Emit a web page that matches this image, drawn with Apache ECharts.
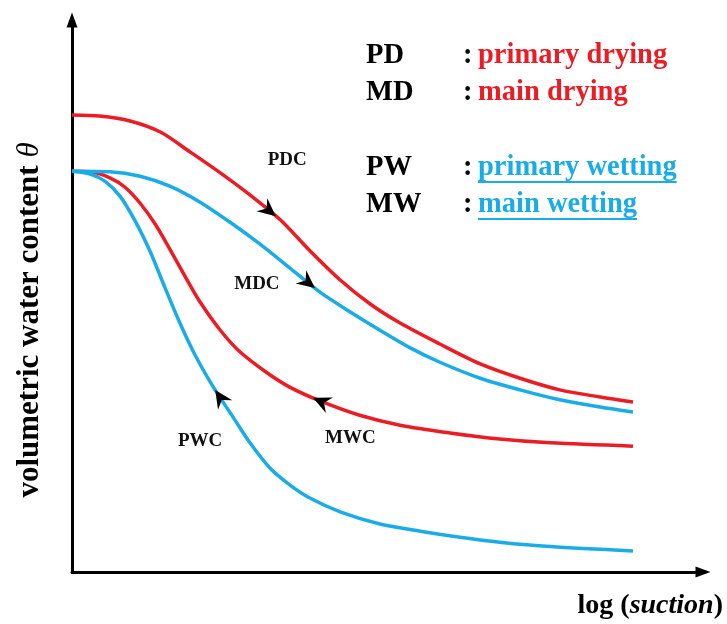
<!DOCTYPE html>
<html>
<head>
<meta charset="utf-8">
<title>Soil water retention hysteresis</title>
<script src="https://cdn.jsdelivr.net/npm/echarts@6/dist/echarts.min.js"></script>
<style>
  html, body { margin: 0; padding: 0; background: #fff; }
  #chart { width: 727px; height: 624px; }
</style>
</head>
<body>
<div id="chart"></div>
<script>
// Suction (log scale, arbitrary units) and volumetric water content for each branch
const pdSuction = [0, 0.44, 0.92, 1.40, 1.87, 2.35, 2.82, 3.30, 3.77, 4.25, 4.72, 5.20, 5.83, 6.47, 7.10, 7.73, 8.37, 8.89];
const pdTheta   = [0.828, 0.826, 0.817, 0.797, 0.761, 0.723, 0.683, 0.638, 0.582, 0.529, 0.486, 0.451, 0.413, 0.377, 0.351, 0.330, 0.317, 0.308];

const mdSuction = [0, 0.60, 1.08, 1.55, 2.03, 2.50, 2.98, 3.45, 3.93, 4.41, 4.88, 5.36, 5.83, 6.47, 7.10, 7.73, 8.37, 8.89];
const mdTheta   = [0.726, 0.725, 0.717, 0.699, 0.670, 0.634, 0.594, 0.551, 0.507, 0.471, 0.438, 0.406, 0.380, 0.351, 0.330, 0.312, 0.299, 0.290];

const mwSuction = [0, 0.29, 0.60, 0.84, 1.08, 1.32, 1.55, 1.79, 2.03, 2.35, 2.66, 3.09, 3.45, 3.93, 4.56, 5.20, 5.99, 6.78, 7.58, 8.89];
const mwTheta   = [0.726, 0.725, 0.714, 0.697, 0.668, 0.630, 0.585, 0.536, 0.489, 0.438, 0.399, 0.361, 0.335, 0.310, 0.284, 0.266, 0.252, 0.241, 0.234, 0.228];

const pwSuction = [0, 0.29, 0.52, 0.76, 1.00, 1.24, 1.47, 1.71, 1.95, 2.24, 2.55, 2.82, 3.14, 3.45, 3.77, 4.25, 4.88, 5.52, 6.15, 6.78, 7.58, 8.89];
const pwTheta   = [0.726, 0.721, 0.708, 0.681, 0.636, 0.580, 0.516, 0.451, 0.393, 0.335, 0.281, 0.234, 0.188, 0.158, 0.134, 0.109, 0.087, 0.074, 0.063, 0.054, 0.046, 0.038];

// Branch names, legend abbreviations and descriptions
const branchNames = ['PDC', 'MDC', 'MWC', 'PWC'];
const legendKeys  = ['PD', 'MD', 'PW', 'MW'];
const legendTexts = ['primary drying', 'main drying', 'primary wetting', 'main wetting'];

// Direction-of-travel arrowheads: branch index, suction at the tip, +1 = towards drier
const arrowBranch = [0, 1, 2, 3];
const arrowAt     = [3.23, 3.85, 3.82, 2.27];
const arrowDir    = [1, 1, -1, -1];

// Where each branch name is written
const labelSuction = [3.41, 2.93, 4.41, 2.03];
const labelTheta   = [0.746, 0.522, 0.243, 0.237];

const RED = '#EC1C24';
const BLUE = '#1AACE6';
const SERIF = "'Liberation Serif', 'Times New Roman', serif";

const branches = [
  { x: pdSuction, y: pdTheta, color: RED },
  { x: mdSuction, y: mdTheta, color: BLUE },
  { x: mwSuction, y: mwTheta, color: RED },
  { x: pwSuction, y: pwTheta, color: BLUE }
];

const chart = echarts.init(document.getElementById('chart'), null, { renderer: 'canvas' });

function pairs(b) { return b.x.map((v, i) => [v, b.y[i]]); }

// Reds underneath, blues on top
const drawOrder = [0, 2, 1, 3];
const lineSeries = drawOrder.map(i => ({
  type: 'line',
  name: branchNames[i],
  data: pairs(branches[i]),
  showSymbol: false,
  smooth: 0.3,
  lineStyle: { color: branches[i].color, width: 3.5 },
  z: 2,
  silent: true
}));

const arrowSeries = {
  type: 'custom',
  name: 'arrows',
  z: 5,
  silent: true,
  data: arrowAt.map((v, i) => [v, 0, i]),
  renderItem: function (params, api) {
    const i = params.dataIndex;
    const b = branches[arrowBranch[i]];
    const pts = b.x.map((v, k) => api.coord([v, b.y[k]]));
    const tipX = api.coord([arrowAt[i], 0])[0];
    let k = 0;
    while (k < pts.length - 2 && pts[k + 1][0] < tipX) k++;
    const p0 = pts[k], p1 = pts[k + 1];
    const t = (tipX - p0[0]) / (p1[0] - p0[0]);
    const tip = [tipX, p0[1] + t * (p1[1] - p0[1])];
    let dx = (p1[0] - p0[0]) * arrowDir[i];
    let dy = (p1[1] - p0[1]) * arrowDir[i];
    const len = Math.hypot(dx, dy);
    dx /= len; dy /= len;
    const nx = -dy, ny = dx;
    const L = 18, W = 8.5, N = 12;
    const back = [tip[0] - dx * L, tip[1] - dy * L];
    return {
      type: 'polygon',
      shape: { points: [
        tip,
        [back[0] + nx * W, back[1] + ny * W],
        [tip[0] - dx * N, tip[1] - dy * N],
        [back[0] - nx * W, back[1] - ny * W]
      ] },
      style: { fill: '#000' }
    };
  }
};

const labelSeries = {
  type: 'custom',
  name: 'branch labels',
  z: 6,
  silent: true,
  data: labelSuction.map((v, i) => [v, labelTheta[i]]),
  renderItem: function (params, api) {
    const p = api.coord([api.value(0), api.value(1)]);
    return {
      type: 'text',
      x: p[0], y: p[1],
      style: {
        text: branchNames[params.dataIndex],
        font: 'bold 19px ' + SERIF,
        fill: '#111',
        align: 'center',
        verticalAlign: 'middle'
      }
    };
  }
};

// Legend block drawn as text, with underlines under the wetting entries
const measure = document.createElement('canvas').getContext('2d');
const LEG_FONT = 'bold 28.5px ' + SERIF;
measure.font = LEG_FONT;
const rowY = [56, 93, 168, 205];
const legendColors = [RED, RED, BLUE, BLUE];
const legendGraphics = [];
legendKeys.forEach((key, i) => {
  legendGraphics.push({
    type: 'text', x: 366, y: rowY[i],
    style: { text: key, font: LEG_FONT, fill: '#000', align: 'left', verticalAlign: 'middle' }
  });
  legendGraphics.push({
    type: 'text', x: 463, y: rowY[i],
    style: { text: ':', font: LEG_FONT, fill: '#000', align: 'left', verticalAlign: 'middle' }
  });
  legendGraphics.push({
    type: 'text', x: 478, y: rowY[i],
    style: { text: legendTexts[i], font: LEG_FONT, fill: legendColors[i], align: 'left', verticalAlign: 'middle' }
  });
  if (i >= 2) {
    const w = measure.measureText(legendTexts[i]).width;
    legendGraphics.push({
      type: 'line',
      shape: { x1: 478, y1: rowY[i] + 14, x2: 478 + w, y2: rowY[i] + 14 },
      style: { stroke: legendColors[i], lineWidth: 2 }
    });
  }
});

const axisBase = {
  type: 'value',
  min: 0,
  axisTick: { show: false },
  axisLabel: { show: false },
  splitLine: { show: false }
};

chart.setOption({
  animation: false,
  backgroundColor: '#fff',
  grid: { left: 72, right: 24, top: 20, bottom: 52 },
  xAxis: Object.assign({}, axisBase, {
    max: 10,
    axisLine: {
      show: true, onZero: false,
      symbol: ['none', 'triangle'], symbolSize: [11, 15],
      lineStyle: { color: '#000', width: 3 }
    }
  }),
  yAxis: Object.assign({}, axisBase, {
    max: 1,
    axisLine: {
      show: true, onZero: false,
      symbol: ['none', 'triangle'], symbolSize: [11, 15],
      lineStyle: { color: '#000', width: 3 }
    }
  }),
  series: lineSeries.concat([arrowSeries, labelSeries]),
  graphic: legendGraphics.concat([
    {
      type: 'text', x: 30, y: 320, rotation: Math.PI / 2,
      style: {
        text: '{b|volumetric water content }{i|θ}',
        align: 'center', verticalAlign: 'middle',
        rich: {
          b: { font: 'bold 31px ' + SERIF, fill: '#000' },
          i: { font: 'italic 31px ' + SERIF, fill: '#000' }
        }
      }
    },
    {
      type: 'text', x: 723, y: 606,
      style: {
        text: '{b|log (}{i|suction}{b|)}',
        align: 'right', verticalAlign: 'middle',
        rich: {
          b: { font: 'bold 28px ' + SERIF, fill: '#000' },
          i: { font: 'italic bold 28px ' + SERIF, fill: '#000' }
        }
      }
    }
  ])
});
</script>
</body>
</html>
